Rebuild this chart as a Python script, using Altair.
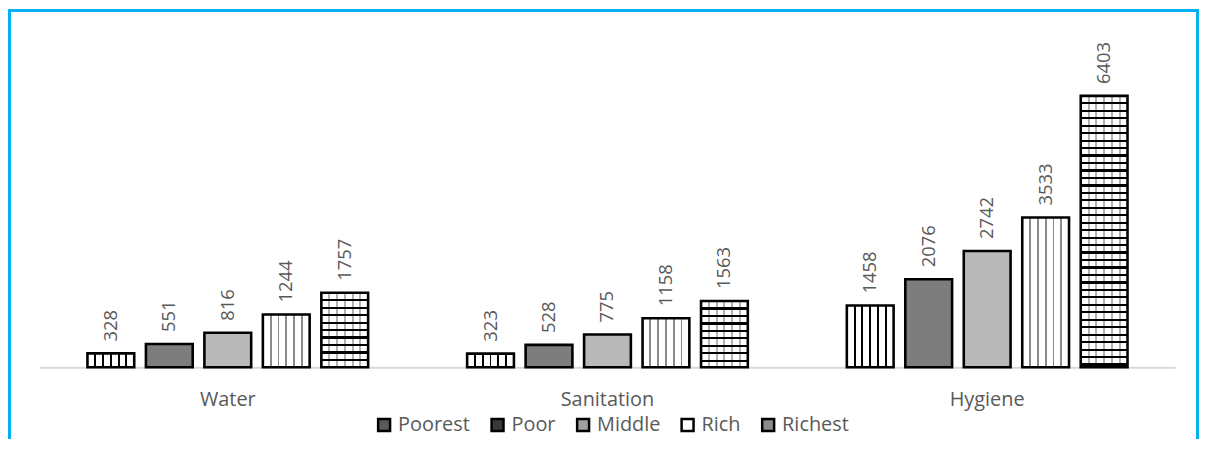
import altair as alt
import pandas as pd

# ---- data ----
categories = ["Water", "Sanitation", "Hygiene"]
groups = ["Poorest", "Poor", "Middle", "Rich", "Richest"]
water = [328, 551, 816, 1244, 1757]
sanitation = [323, 528, 775, 1158, 1563]
hygiene = [1458, 2076, 2742, 3533, 6403]

rows = []
for cat, vals in zip(categories, [water, sanitation, hygiene]):
    for g, v in zip(groups, vals):
        rows.append({"cat": cat, "grp": g, "val": v})
df = pd.DataFrame(rows)

# ---- layout / style ----
W, H = 1197, 432
Y0 = 360
YMAX = 7000
PX = 0.0426
FONT = "Open Sans"
TXT = "#595959"
BLUE = "#00b0f0"


def stripes(centers, width, color, bg, vertical_lines=True):
    stops = [{"offset": 0, "color": bg}]
    for c in centers:
        a, b = max(0.0, c - width / 2), min(1.0, c + width / 2)
        stops += [
            {"offset": a, "color": bg},
            {"offset": a, "color": color},
            {"offset": b, "color": color},
            {"offset": b, "color": bg},
        ]
    stops.append({"offset": 1, "color": bg})
    g = {"gradient": "linear", "stops": stops}
    if vertical_lines:
        g.update(x1=0, y1=0, x2=1, y2=0)
    else:
        g.update(x1=0, y1=0, x2=0, y2=1)
    return g


sixths = [1 / 6, 2 / 6, 3 / 6, 4 / 6, 5 / 6]
poorest_fill = stripes(sixths, 0.04, "#000000", "#ffffff")
rich_fill = stripes(sixths, 0.04, "#8c8c8c", "#ffffff")
joints_fill = stripes(sixths, 0.042, "rgba(0,0,0,0.3)", "rgba(0,0,0,0)")

conditions = [
    {"test": "datum.grp === 'Poorest'", "value": poorest_fill},
    {"test": "datum.grp === 'Poor'", "value": "#7d7d7d"},
    {"test": "datum.grp === 'Middle'", "value": "#b9b9b9"},
    {"test": "datum.grp === 'Rich'", "value": rich_fill},
]
for cat, vals in zip(categories, [water, sanitation, hygiene]):
    h = vals[-1] * PX
    n = int(h // 7.5)
    centers = [i * 7.5 / h for i in range(1, n + 1)]
    conditions.append({
        "test": f"datum.grp === 'Richest' && datum.cat === '{cat}'",
        "value": stripes(centers, 2.2 / h, "#000000", "#ffffff", vertical_lines=False),
    })

legend_fills = ["#5a5a5a", "#3a3a3a", "#a0a0a0", "#ffffff", "#8a8a8a"]

fill_def = {
    "field": "grp",
    "type": "nominal",
    "scale": {"domain": groups, "range": legend_fills},
    "legend": {
        "orient": "none",
        "legendX": 368,
        "legendY": 408,
        "direction": "horizontal",
        "title": None,
        "symbolType": "square",
        "symbolSize": 144,
        "symbolStrokeColor": "black",
        "symbolStrokeWidth": 2.5,
        "symbolOpacity": 1,
        "labelFont": FONT,
        "labelFontSize": 20,
        "labelColor": TXT,
        "labelOffset": 4,
        "columnPadding": 16,
        "padding": 0,
    },
    "condition": conditions,
}

x_enc = alt.X(
    "cat:N",
    sort=categories,
    scale=alt.Scale(range=[32, 1173], paddingInner=0.23, paddingOuter=0.11, round=False),
    axis=alt.Axis(
        title=None, orient="bottom", offset=-(H - Y0), domainColor="#d9d9d9",
        domainWidth=2, ticks=False, tickSize=0, labelFont=FONT, labelFontSize=20,
        labelColor=TXT, labelPadding=22, labelAngle=0, grid=False,
    ),
)
xo_enc = alt.XOffset("grp:N", sort=groups,
                     scale=alt.Scale(paddingInner=0.2, paddingOuter=0.1, round=False))
y_enc = alt.Y("val:Q", scale=alt.Scale(domain=[0, YMAX], range=[Y0, Y0 - YMAX * PX],
                                      nice=False, zero=True), axis=None)

base = alt.Chart(df)

bars = base.mark_bar(stroke="black", strokeWidth=2.6).encode(
    x=x_enc, xOffset=xo_enc, y=y_enc, fill=fill_def
)

joints = base.transform_filter("datum.grp === 'Richest'").mark_bar(
    fill=joints_fill, strokeWidth=0
).encode(x=x_enc, xOffset=xo_enc, y=y_enc)

labels = base.mark_text(
    angle=270, align="left", baseline="middle", dx=12,
    font=FONT, fontSize=18.5, color=TXT,
).encode(x=x_enc, xOffset=xo_enc, y=y_enc, text="val:Q")

one = alt.Chart(pd.DataFrame({"k": [0]}))
frame_top = one.mark_rule(color=BLUE, strokeWidth=3).encode(
    x=alt.value(0), x2=alt.value(W), y=alt.value(1.5))
frame_left = one.mark_rule(color=BLUE, strokeWidth=3).encode(
    x=alt.value(1.5), y=alt.value(0), y2=alt.value(H))
frame_right = one.mark_rule(color=BLUE, strokeWidth=3).encode(
    x=alt.value(W - 1.5), y=alt.value(0), y2=alt.value(H))

chart = alt.layer(bars, joints, labels, frame_top, frame_left, frame_right).properties(
    width=W, height=H, padding=0, autosize="none", background="white"
).configure_view(stroke=None)

chart.save("out.html", embed_options={"renderer": "svg", "actions": False})
